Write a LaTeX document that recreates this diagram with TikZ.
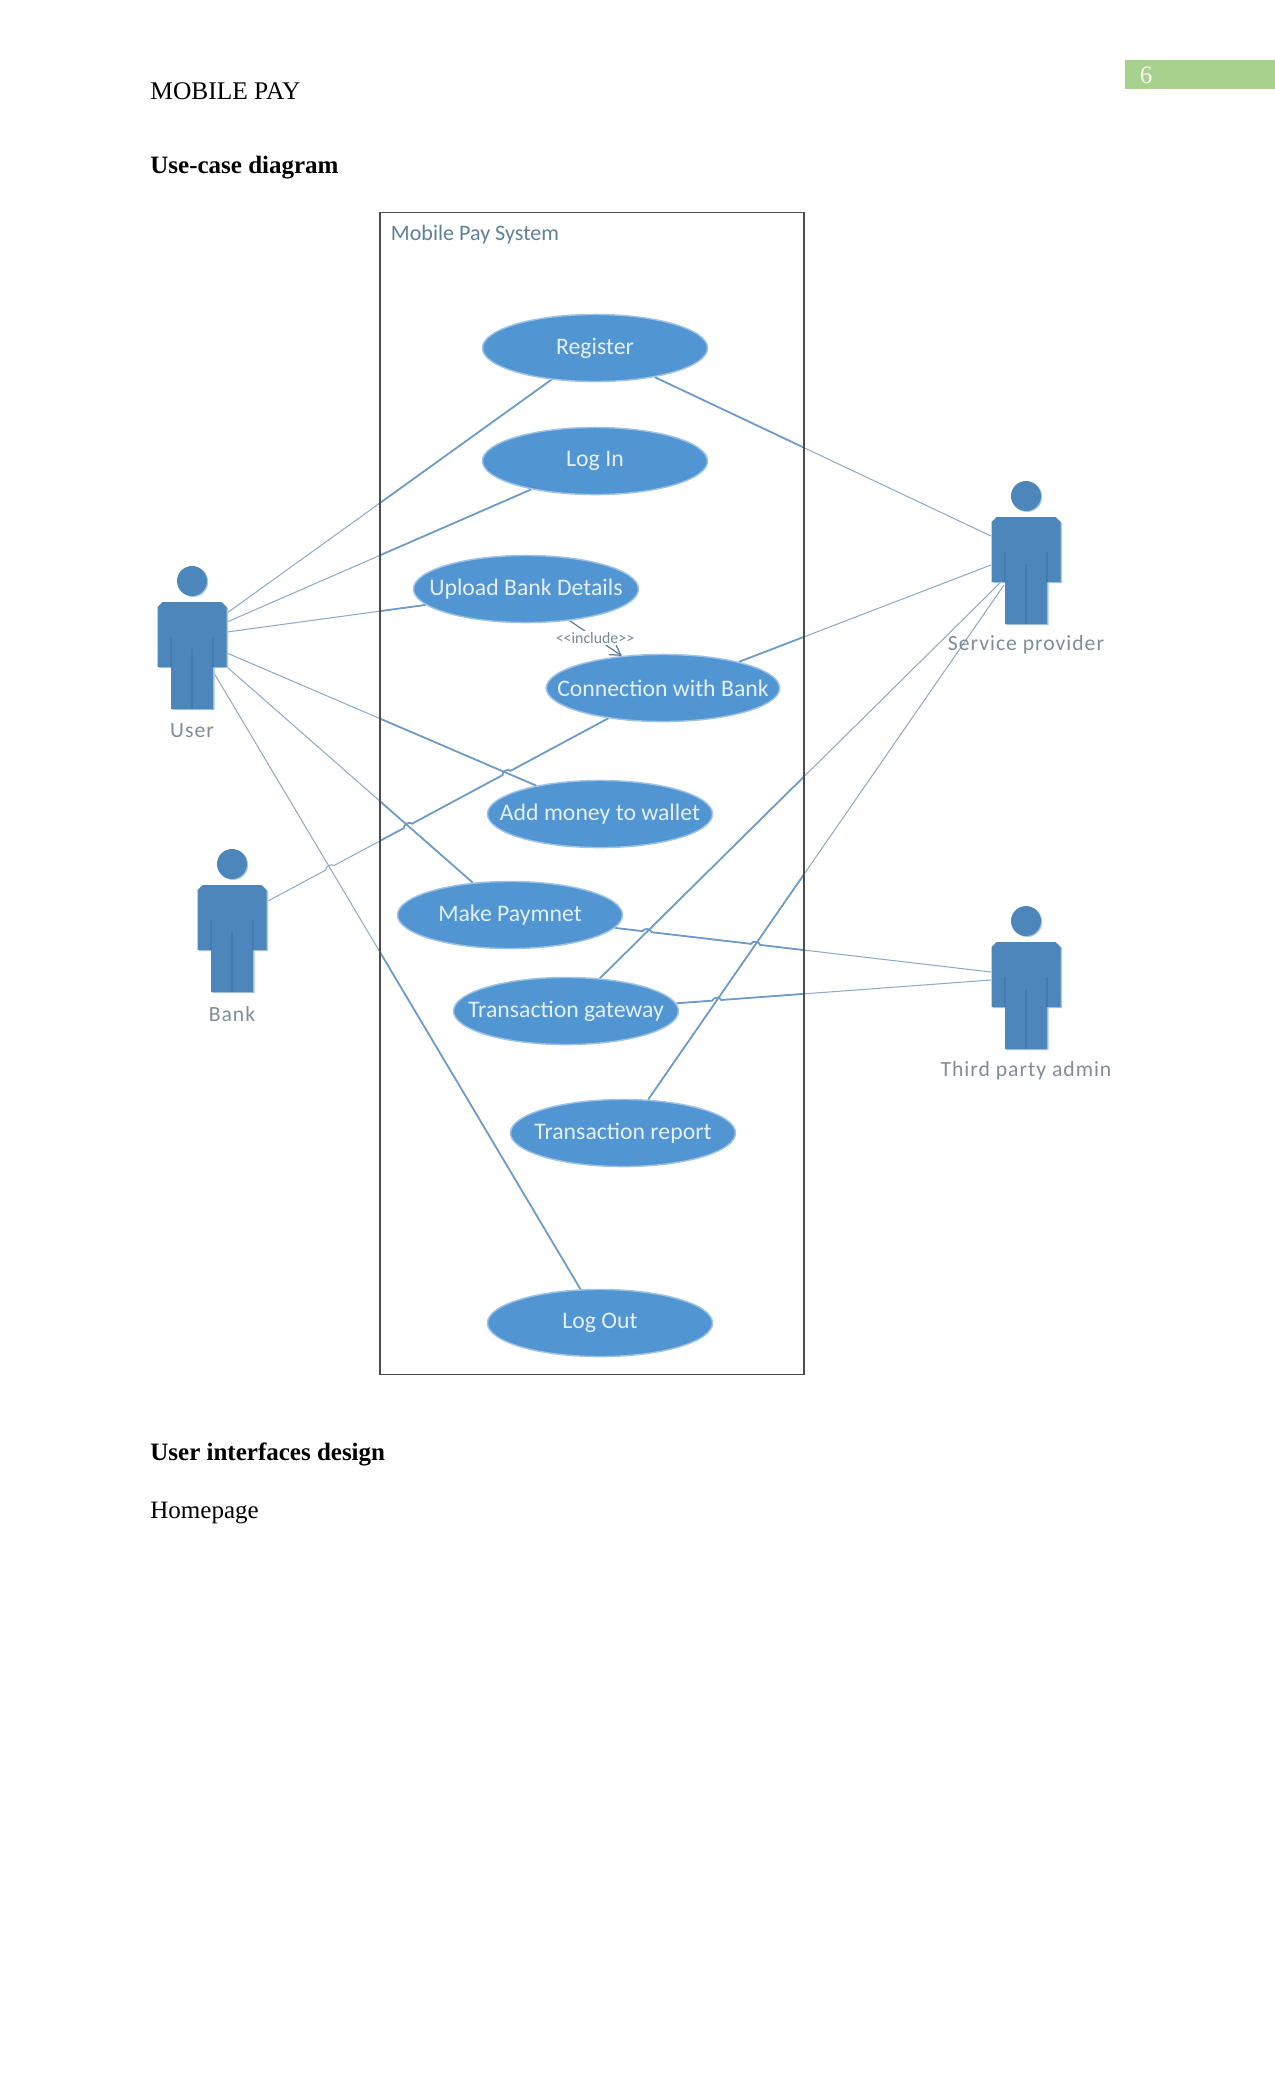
\documentclass[tikz,border=0pt]{standalone}
\usepackage{fontspec}
\setmainfont{Liberation Serif}
\newfontfamily\calib{Carlito}
\newfontfamily\calibwide[LetterSpace=4.5]{Carlito}
\usetikzlibrary{shapes.geometric,calc,intersections,backgrounds,arrows.meta}
\definecolor{casefill}{HTML}{5195D2}
\definecolor{caseedge}{HTML}{9CC3E6}
\definecolor{casetext}{HTML}{E4F0FA}
\definecolor{actorfill}{HTML}{4C86BA}
\definecolor{actorline}{HTML}{4279B0}
\definecolor{actoredge}{HTML}{A9C8E2}
\definecolor{linkthin}{HTML}{8FAAC4}
\definecolor{linkthick}{HTML}{6F9CC6}
\definecolor{labelgrey}{HTML}{808C98}
\definecolor{titleblue}{HTML}{5F7F9C}
\definecolor{pagebar}{HTML}{A9D18E}
% Use-case captions take no room, so the ellipses keep their drawn size
\newcommand{\casetxt}[1]{\makebox[0pt][c]{\raisebox{-1.3pt}{#1}}}
\newcommand{\actorshape}{(-29.5,21) -- (29.5,21) -- (34.5,26) -- (34.5,86) -- (21,86) -- (21,128)
      -- (-21,128) -- (-21,86) -- (-34.5,86) -- (-34.5,26) -- cycle}
\tikzset{
  usecase/.style={ellipse,fill=casefill,draw=caseedge,line width=.7pt,inner sep=0pt,
    minimum width=108pt,minimum height=32.2pt,text=casetext,font=\calib\fontsize{11.4}{13}\selectfont},
  widecase/.style={usecase,minimum width=112pt},
  actorlabel/.style={text=labelgrey,font=\calibwide\fontsize{10.4}{12}\selectfont,inner sep=0pt},
  pagetext/.style={anchor=base west,inner sep=0pt,font=\fontsize{12}{14}\selectfont},
  pagehead/.style={pagetext,font=\fontsize{12}{14}\selectfont\bfseries},
  thinlink/.style={draw=linkthin,line width=.5pt},
  thicklink/.style={draw=linkthick,line width=.85pt},
  actorfig/.pic={
    \fill[actoredge] (1.2,1) circle (15);
    \fill[actorfill] (0,0) circle (15);
    \fill[actoredge,shift={(1.5,1)}] \actorshape;
    \fill[actorfill] \actorshape;
    \draw[actorline,line width=.5pt] (-21,56) -- (-21,86) (21,56) -- (21,86) (0,68) -- (0,128);
  }
}
% A small hop of a connector over the line it crosses at point #1
\newcommand{\hopover}[3]{-- ($(#1)!2.2pt!(#2)$) to[bend left=75] ($(#1)!2.2pt!(#3)$)}
% Every connector of the system, drawn with the current line style
\newcommand{\alllinks}[1]{
  \draw[#1] (u1) -- (reg.216.4);
  \draw[#1] (u2) -- (login.204.3);
  \draw[#1] (u3) -- (upload.189.1);
  \draw[#1] (u4) -- (addm.156.5);
  \draw[#1] (u5) -- (make.139.3);
  \draw[#1] (u6) -- (logout.120);
  \draw[#1] (b1) \hopover{x1}{b1}{conn.209} \hopover{x2}{b1}{conn.209} \hopover{x3}{b1}{conn.209} -- (conn.209);
  \draw[#1] (reg.334.6) -- (s1);
  \draw[#1] (conn.19.9) -- (s2);
  \draw[#1] (gate.44.1) -- (s3);
  \draw[#1] (report.53.1) -- (s4);
  \draw[#1] (make.353.5) \hopover{x4}{make.353.5}{t1} \hopover{x5}{make.353.5}{t1} -- (t1);
  \draw[#1] (gate.4) \hopover{x6}{gate.4}{t2} -- (t2);
}
\begin{document}
\begin{tikzpicture}[x=0.48pt,y=-0.48pt]
\useasboundingbox (0,0) rectangle (1275,2100);

% Page header and headings
\fill[pagebar] (1125,60) rectangle (1275,89);
\node[inner sep=0pt,text=white!90!pagebar,font=\fontsize{12}{14}\selectfont] (pageno) at (1146,75) {6};
\node[pagetext,font=\fontsize{12.2}{14}\selectfont] (running) at (150,99) {MOBILE PAY};
\node[pagehead] (headuse) at (150,173.5) {Use-case diagram};
\node[pagehead] (headui) at (150,1460.5) {User interfaces design};
\node[pagetext] (home) at (150,1518.5) {Homepage};

% System boundary
\node[draw=black!70,line width=.6pt,minimum width=203.5pt,minimum height=557.8pt,inner sep=0pt] (system) at (592,793.5) {};
\node[text=titleblue,font=\calib\fontsize{10.6}{12}\selectfont,inner sep=0pt] (systitle) at (475,234.5) {Mobile Pay System};

% Use cases
\node[usecase] (reg) at (595,348) {\casetxt{Register}};
\node[usecase] (login) at (595,461) {\casetxt{Log In}};
\node[usecase] (upload) at (526,589) {\casetxt{Upload Bank Details}};
\node[widecase] (conn) at (663,688) {\casetxt{Connection with Bank}};
\node[usecase] (addm) at (600,814) {\casetxt{Add money to wallet}};
\node[usecase] (make) at (510,915) {\casetxt{Make Paymnet}};
\node[usecase] (gate) at (566,1011) {\casetxt{Transaction gateway}};
\node[usecase] (report) at (623,1133) {\casetxt{Transaction report}};
\node[usecase] (logout) at (600,1323) {\casetxt{Log Out}};

% Actors
\coordinate (user) at (192,581);
\coordinate (bank) at (232,864);
\coordinate (service) at (1026,496);
\coordinate (third) at (1026,921);
\pic at (user) {actorfig};
\pic at (bank) {actorfig};
\pic at (service) {actorfig};
\pic at (third) {actorfig};
\node[actorlabel] (userlab) at (192,731) {User};
\node[actorlabel] (banklab) at (232,1014) {Bank};
\node[actorlabel] (servicelab) at (1026,645) {Service provider};
\node[actorlabel] (thirdlab) at (1026,1071) {Third party admin};

% Connector ends on the actors
\coordinate (u1) at ([shift={(35,32)}]user);
\coordinate (u2) at ([shift={(35,41)}]user);
\coordinate (u3) at ([shift={(35,51)}]user);
\coordinate (u4) at ([shift={(35,72)}]user);
\coordinate (u5) at ([shift={(35,86)}]user);
\coordinate (u6) at ([shift={(22,92)}]user);
\coordinate (b1) at ([shift={(36,37)}]bank);
\coordinate (s1) at ([shift={(-35,40)}]service);
\coordinate (s2) at ([shift={(-35,69)}]service);
\coordinate (s3) at ([shift={(-22,83)}]service);
\coordinate (s4) at ([shift={(-22,89)}]service);
\coordinate (t1) at ([shift={(-35,51)}]third);
\coordinate (t2) at ([shift={(-35,59)}]third);

% Crossings where a connector hops over another
\path[name path=pb] (b1) -- (conn.209);
\path[name path=pu4] (u4) -- (addm.156.5);
\path[name path=pu5] (u5) -- (make.139.3);
\path[name path=pu6] (u6) -- (logout.120);
\path[name path=pm] (make.353.5) -- (t1);
\path[name path=pg] (gate.4) -- (t2);
\path[name path=ps3] (gate.44.1) -- (s3);
\path[name path=ps4] (report.53.1) -- (s4);
\path[name intersections={of=pb and pu6,by=x1}];
\path[name intersections={of=pb and pu5,by=x2}];
\path[name intersections={of=pb and pu4,by=x3}];
\path[name intersections={of=pm and ps3,by=x4}];
\path[name intersections={of=pm and ps4,by=x5}];
\path[name intersections={of=pg and ps4,by=x6}];

% Connectors lie beneath the shapes and thicken inside the system boundary
\begin{scope}[on background layer]
  \alllinks{thinlink}
  \begin{scope}
    \clip (system.north west) rectangle (system.south east);
    \alllinks{thicklink}
  \end{scope}
  \draw[draw=titleblue,line width=.6pt,-{Straight Barb[length=5pt,width=6pt]}] (upload.324.2) -- (conn.142.5);
\end{scope}
\node[fill=white,inner sep=.6pt,text=labelgrey!70!titleblue,font=\calib\fontsize{7.6}{9}\selectfont] (inclabel) at (595,638) {<{}<include>{}>};
\end{tikzpicture}
\end{document}
